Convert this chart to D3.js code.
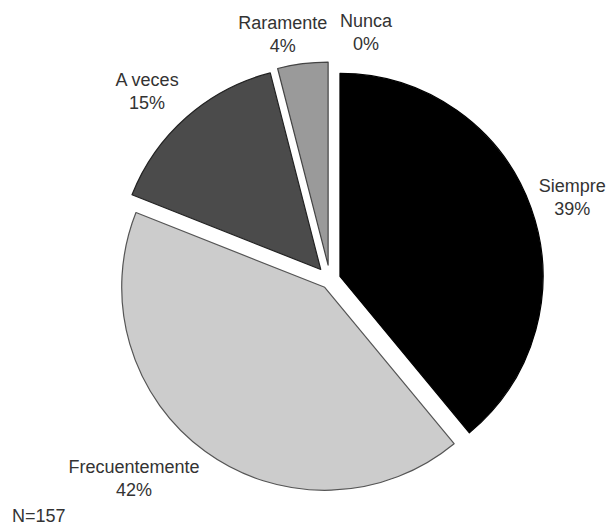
<!DOCTYPE html>
<html><head><meta charset="utf-8">
<script src="https://cdn.jsdelivr.net/npm/d3@7"></script>
<style>html,body{margin:0;padding:0;background:#fff;overflow:hidden}</style>
</head><body>
<svg id="chart" width="608" height="527"></svg>
<script>
const categories = ["Siempre", "Frecuentemente", "A veces", "Raramente", "Nunca"];
const values = [39, 42, 15, 4, 0];
const sampleNote = "N=157";

const fills = ["#000000", "#cccccc", "#4b4b4b", "#9a9a9a", "#ffffff"];
const strokes = ["#000000", "#555555", "#222222", "#444444", "#444444"];
const explode = [10.6, 9, 14, 15, 15];
const labelR = [252, 285, 252, 243, 243];
const labelTurn = [0.04, 0.13, -0.05, -0.07, 0];
const labelNudge = [[2, 1], [0, -1], [-7, -1], [0, 0], [36, 3]];

const svg = d3.select("#chart");
const cx = 330, cy = 280, R = 203;

const pie = d3.pie().sort(null).value(d => d).startAngle(0).endAngle(2 * Math.PI);
const arcs = pie(values);
const arc = d3.arc().innerRadius(0).outerRadius(R);

const g = svg.append("g").attr("transform", `translate(${cx},${cy})`);

g.selectAll("path").data(arcs).enter().filter(d => d.value > 0)
  .append("path")
  .attr("d", arc)
  .attr("transform", d => {
    const i = d.index;
    const a = (d.startAngle + d.endAngle) / 2;
    return `translate(${explode[i] * Math.sin(a)},${-explode[i] * Math.cos(a)})`;
  })
  .attr("fill", d => fills[d.index])
  .attr("stroke", d => strokes[d.index])
  .attr("stroke-width", 1.2)
  .attr("stroke-linejoin", "round");

const labels = g.selectAll("text.lbl").data(arcs).enter().append("text")
  .attr("class", "lbl")
  .attr("font-family", "Liberation Sans, Arial, sans-serif")
  .attr("font-size", 18)
  .attr("fill", "#333333")
  .attr("text-anchor", "middle")
  .attr("transform", d => {
    const i = d.index;
    const a = (d.startAngle + d.endAngle) / 2 + labelTurn[i];
    const x = labelR[i] * Math.sin(a) + labelNudge[i][0];
    const y = -labelR[i] * Math.cos(a) + labelNudge[i][1];
    return `translate(${x},${y})`;
  });

labels.append("tspan").attr("x", 0).attr("dy", -13).text(d => categories[d.index]);
labels.append("tspan").attr("x", 0).attr("dy", 23).text(d => d.value + "%");

svg.append("text")
  .attr("x", 12).attr("y", 522)
  .attr("font-family", "Liberation Sans, Arial, sans-serif")
  .attr("font-size", 18)
  .attr("fill", "#333333")
  .text(sampleNote);
</script>
</body></html>
